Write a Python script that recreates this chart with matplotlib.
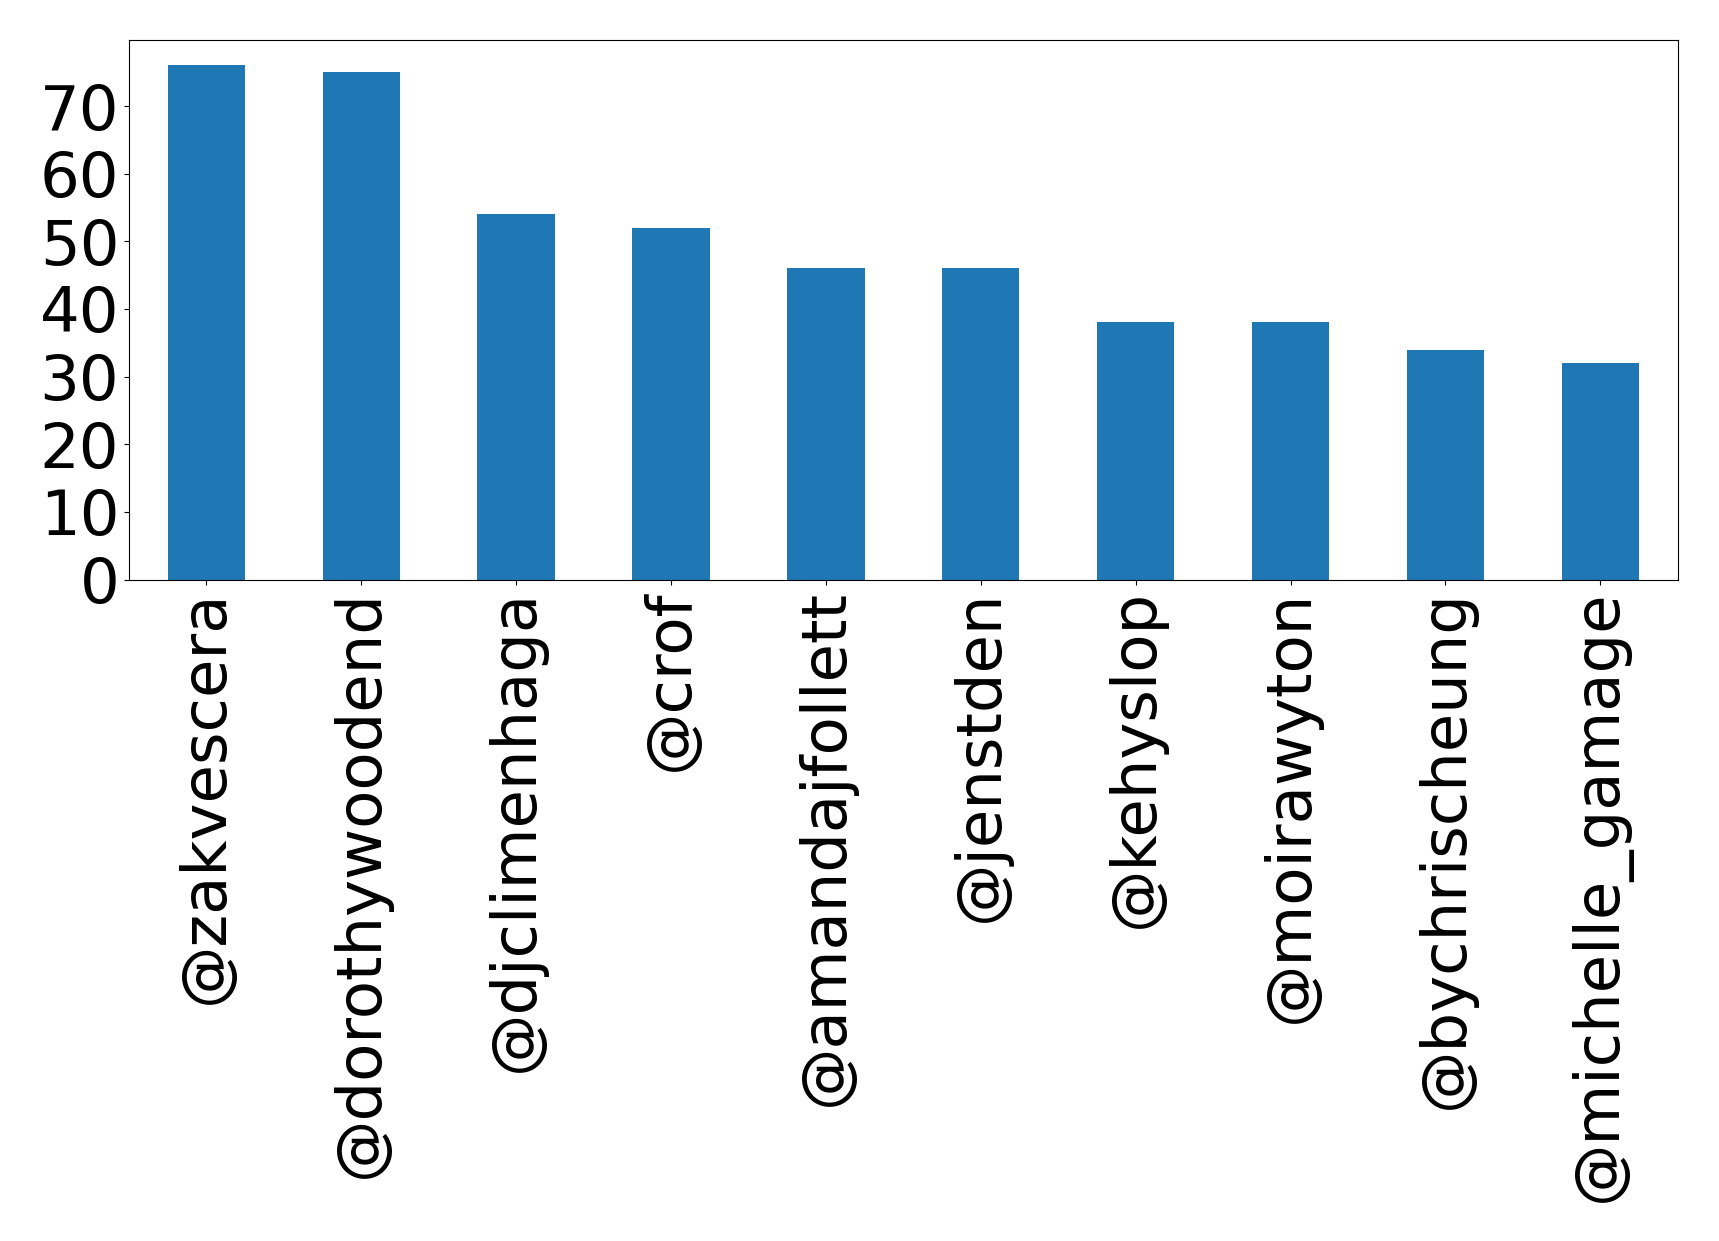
import matplotlib
matplotlib.use("Agg")
import matplotlib.pyplot as plt
import pandas as pd

users = ["@zakvescera", "@dorothywoodend", "@djclimenhaga", "@crof", "@amandajfollett",
         "@jenstden", "@kehyslop", "@moirawyton", "@bychrischeung", "@michelle_gamage"]
counts = [76, 75, 54, 52, 46, 46, 38, 38, 34, 32]

fig = plt.figure(figsize=(17.19, 12.41), dpi=100)
ax = fig.add_axes([0.075, 0.533, 0.901, 0.435])
s = pd.Series(counts, index=users)
s.plot(kind="bar", ax=ax, color="#1f77b4", width=0.5)
ax.tick_params(axis="both", labelsize=45)
ax.set_yticks(range(0, 80, 10))
fig.savefig("out.png", dpi=100)
